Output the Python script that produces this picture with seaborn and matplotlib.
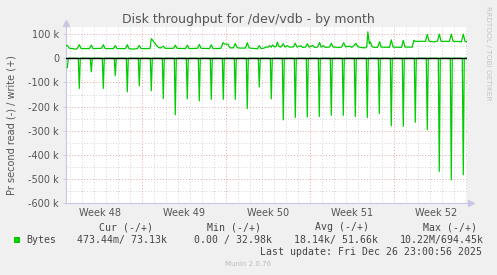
import numpy as np
import pandas as pd
import matplotlib
matplotlib.use("Agg")
import matplotlib.pyplot as plt
import seaborn as sns
from matplotlib.patches import Rectangle

# ---------------- data ----------------
title = "Disk throughput for /dev/vdb - by month"
y_label = "Pr second read (-) / write (+)"
week_labels = ["Week 48", "Week 49", "Week 50", "Week 51", "Week 52"]
week_label_pos = [3.5, 10.5, 17.5, 24.5, 31.5]
week_bounds = [7, 14, 21, 28]
y_ticks = [100000, 0, -100000, -200000, -300000, -400000, -500000, -600000]
y_tick_labels = ["100 k", "0", "-100 k", "-200 k", "-300 k", "-400 k", "-500 k", "-600 k"]

# read (negative) daily spikes, time in days, value in kB/s
read_spike_day = [0.75, 1.75, 2.75, 3.75, 4.75, 5.75, 6.75, 7.75, 8.75, 9.75,
                  10.75, 11.75, 12.75, 13.75, 14.75, 15.75, 16.75, 17.75, 18.75, 19.75,
                  20.75, 21.75, 22.75, 23.75, 24.75, 25.75, 26.75, 27.75, 28.75, 29.75,
                  30.75, 31.75, 32.75, 33.75]
read_spike_k = [-39, -125, -56, -125, -72, -139, -114, -135, -167, -234,
                -168, -176, -170, -170, -170, -208, -119, -168, -255, -245,
                -243, -241, -236, -236, -241, -245, -229, -279, -282, -265,
                -296, -468, -503, -482]
read_baseline_k = 0
read_start_day = 0.75
read_end_day = 34.0

# write (positive) series vertices
write_day = [0.64, 0.78, 0.92, 1.25, 1.4, 1.58, 1.75, 1.9,
             2.6, 2.75, 2.9, 3.6, 3.75, 3.9, 4.6, 4.75, 4.9,
             5.6, 5.75, 5.9, 6.3, 6.6, 6.75, 6.9,
             7.5, 7.65, 7.75, 7.9, 8.05, 8.2, 8.35, 8.5, 8.75, 8.9,
             9.6, 9.75, 9.9, 10.6, 10.75, 10.9, 11.6, 11.75, 11.9, 12.6, 12.75, 12.9,
             13.55, 13.72, 13.9, 14.15, 14.3, 14.6, 14.75, 14.9, 15.15, 15.6, 15.75, 15.9,
             16.15, 16.45, 16.6, 16.75, 16.9, 17.15,
             17.3, 17.45, 17.6, 17.75, 17.85, 18.0, 18.15, 18.25, 18.4, 18.55, 18.75, 18.9,
             19.1, 19.25, 19.6, 19.75, 19.9, 20.2, 20.35, 20.6, 20.75, 20.9,
             21.2, 21.35, 21.6, 21.78, 21.9, 22.1, 22.25, 22.6, 22.75, 22.9,
             23.15, 23.3, 23.6, 23.78, 23.95, 24.3, 24.45, 24.7, 24.8, 24.95,
             25.15, 25.3, 25.55, 25.7, 25.8, 25.92, 26.0, 26.15, 26.3, 26.6, 26.78, 26.9,
             27.6, 27.75, 27.9, 28.6, 28.75, 28.9, 29.5, 29.62, 29.75,
             30.6, 30.75, 30.9, 31.2, 31.3, 31.45, 31.6, 31.75, 31.9,
             32.6, 32.75, 32.9, 33.45, 33.6, 33.75, 33.9, 34.06]
write_k = [52, 52, 41, 40, 37, 40, 56, 40,
           40, 54, 40, 41, 56, 40, 40, 52, 40,
           40, 56, 39, 38, 40, 53, 40,
           40, 41, 81, 72, 62, 52, 45, 42, 50, 41,
           41, 54, 41, 40, 54, 40, 41, 57, 41, 40, 56, 40,
           41, 64, 58, 58, 43, 43, 61, 44, 42, 42, 64, 43,
           41, 40, 39, 52, 40, 42,
           47, 45, 52, 46, 55, 47, 48, 67, 48, 46, 60, 46,
           52, 46, 47, 62, 46, 52, 45, 46, 60, 46,
           53, 45, 46, 65, 46, 52, 45, 46, 62, 46,
           46, 44, 46, 64, 47, 50, 45, 55, 62, 48,
           45, 44, 43, 46, 109, 60, 68, 48, 45, 45, 68, 46,
           45, 76, 46, 45, 74, 46, 46, 74, 70,
           70, 98, 70, 69, 67, 70, 70, 100, 70,
           70, 100, 70, 69, 68, 100, 69, 69]

legend_name = "Bytes"
legend_headers = ["Cur (-/+)", "Min (-/+)", "Avg (-/+)", "Max (-/+)"]
legend_values = ["473.44m/ 73.13k", "0.00 / 32.98k", "18.14k/ 51.66k", "10.22M/694.45k"]
last_update = "Last update: Fri Dec 26 23:00:56 2025"
munin_version = "Munin 2.0.76"
watermark = "RRDTOOL / TOBI OETIKER"

# ---------------- build tables ----------------
step = 1.0 / 12.0
t_grid = np.arange(read_start_day, read_end_day + 1e-6, step)
read_vals = np.full(len(t_grid), read_baseline_k * 1000.0)
for d, v in zip(read_spike_day, read_spike_k):
    idx = int(round((d - read_start_day) / step))
    read_vals[idx] = v * 1000.0
df_read = pd.DataFrame({"day": t_grid, "bytes": read_vals})
df_write = pd.DataFrame({"day": write_day, "bytes": np.array(write_k) * 1000.0})

# ---------------- figure ----------------
W, H = 497, 275
fig = plt.figure(figsize=(W / 100, H / 100), dpi=100, facecolor="#F0F0F0")
x0, x1, ytop, ybot = 66, 467, 27.3, 203.3
ax = fig.add_axes([x0 / W, 1 - ybot / H, (x1 - x0) / W, (ybot - ytop) / H])
ax.set_facecolor("white")
ax.set_xlim(0.642, 34.06)
ax.set_ylim(-600000, 128000)

# grid
grid_gray = "#D2D2D2"
grid_red = "#E8A4A4"
for d in range(1, 35):
    if d not in week_bounds:
        ax.axvline(d, color=grid_gray, lw=0.7, ls=(0, (1, 2)), zorder=1)
for yv in range(-550000, 128000, 100000):
    ax.axhline(yv, color=grid_gray, lw=0.7, ls=(0, (1, 2)), zorder=1)
for d in week_bounds:
    ax.axvline(d, color=grid_red, lw=0.7, ls=(0, (1, 2)), zorder=1.5)
for yv in y_ticks:
    if yv != 0:
        ax.axhline(yv, color=grid_red, lw=0.7, ls=(0, (1, 2)), zorder=1.5)

green = "#00CC00"
sns.lineplot(data=df_read, x="day", y="bytes", ax=ax, color=green, lw=0.9,
             estimator=None, sort=False, zorder=3)
sns.lineplot(data=df_write, x="day", y="bytes", ax=ax, color=green, lw=0.9,
             estimator=None, sort=False, zorder=3)
ax.axhline(0, color="black", lw=1.0, zorder=4)

# axes styling
for s in ["top", "right"]:
    ax.spines[s].set_visible(False)
axcol = "#C8C8E6"
for s in ["left", "bottom"]:
    ax.spines[s].set_color(axcol)
    ax.spines[s].set_linewidth(0.8)
ax.plot([0, 0], [1.0, 1.025], transform=ax.transAxes, color=axcol, lw=0.8, clip_on=False)
ax.plot([0], [1.025], marker="^", ms=4, color=axcol, transform=ax.transAxes, clip_on=False)
ax.plot([1.0, 1.01], [0, 0], transform=ax.transAxes, color=axcol, lw=0.8, clip_on=False)
ax.plot([1.01], [0], marker=">", ms=4, color=axcol, transform=ax.transAxes, clip_on=False)

ax.set_yticks(y_ticks)
ax.set_yticklabels(y_tick_labels)
ax.set_xticks(week_label_pos)
ax.set_xticklabels(week_labels)
ax.tick_params(axis="y", length=2, width=0.6, color=axcol, pad=3, labelsize=7, labelcolor="#555555")
ax.tick_params(axis="x", length=0, pad=3.5, labelsize=7, labelcolor="#555555")
ax.set_xlabel("")
ax.set_ylabel("")

def px(x, y):
    return x / W, 1 - y / H

fig.text(*px(248, 19), title, ha="center", va="center", fontsize=9, color="#555555")
fig.text(*px(12, 125), y_label, ha="center", va="center", rotation=90, fontsize=7, color="#555555")
fig.text(*px(488, 53), watermark, ha="center", va="center", rotation=270, fontsize=5.3, color="#C4C4C4")

mono = "DejaVu Sans Mono"
fs = 7.1
header_x = [98.7, 206.7, 315, 422.7]
value_x = [77.3, 194.3, 294, 399.3]
for hx, h in zip(header_x, legend_headers):
    fig.text(*px(hx, 227.3), h, ha="left", va="center", family=mono, fontsize=fs, color="#444444")
fig.patches.append(Rectangle(px(13.5, 243), 6 / W, 6 / H, transform=fig.transFigure,
                             facecolor=green, edgecolor="none"))
fig.text(*px(26.7, 240), legend_name, ha="left", va="center", family=mono, fontsize=fs, color="#444444")
for vx, v in zip(value_x, legend_values):
    fig.text(*px(vx, 240), v, ha="left", va="center", family=mono, fontsize=fs, color="#444444")
fig.text(*px(482.5, 252), last_update, ha="right", va="center", family=mono, fontsize=fs, color="#444444")
fig.text(*px(248, 264), munin_version, ha="center", va="center", fontsize=5, color="#BBBBBB")

fig.savefig("out.png", dpi=100, facecolor=fig.get_facecolor())
